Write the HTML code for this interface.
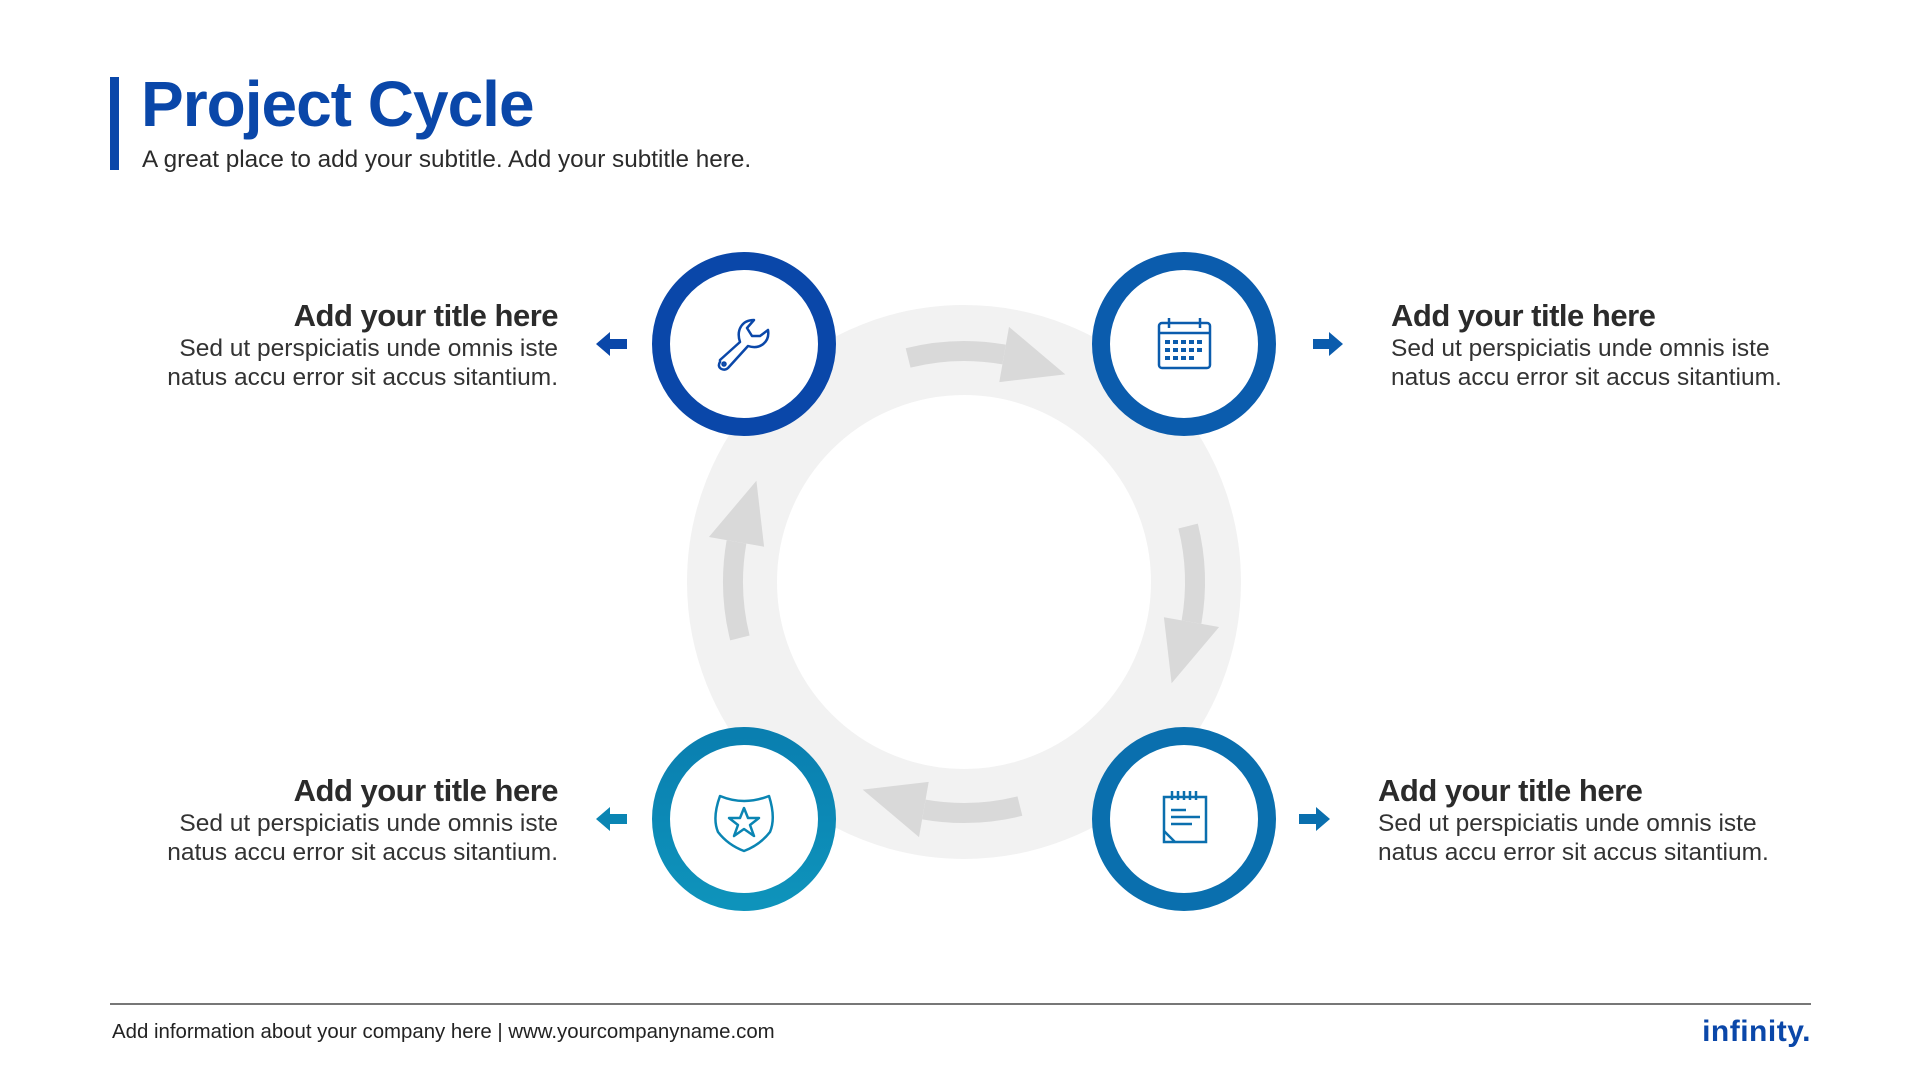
<!DOCTYPE html>
<html><head><meta charset="utf-8"><style>
body{margin:0;width:1920px;height:1080px;background:#fff;position:relative;overflow:hidden;font-family:"Liberation Sans",sans-serif;}
.t{position:absolute;font-weight:bold;font-size:31px;color:#2b2b2b;white-space:nowrap;letter-spacing:-0.5px}
.b{position:absolute;font-size:24.5px;color:#333;line-height:29px;white-space:nowrap}
.r{text-align:right}
</style></head><body>
<div style="position:absolute;left:110px;top:77px;width:9px;height:93px;background:#0a47a9"></div>
<div style="position:absolute;left:141px;top:67px;font-size:64px;font-weight:bold;color:#0a47a9;letter-spacing:-1px">Project Cycle</div>
<div style="position:absolute;left:142px;top:146px;font-size:24.3px;color:#2b2b2b">A great place to add your subtitle. Add your subtitle here.</div>

<svg width="1920" height="1080" style="position:absolute;left:0;top:0">
<defs><linearGradient id="g" x1="0" y1="0" x2="0" y2="1"><stop offset="0" stop-color="#0a7fb0"/><stop offset="1" stop-color="#0e93bb"/></linearGradient></defs>
<circle cx="964" cy="582" r="232" fill="none" stroke="#f2f2f2" stroke-width="90"/>
<g transform="translate(964,582)" fill="#d9d9d9">
 <g id="ar"><path d="M-55.9,-224.1 A231,231 0 0 1 40.1,-227.5" fill="none" stroke="#d9d9d9" stroke-width="20"/><polygon points="35.3,-199.9 45,-255.1 101.3,-207.6"/></g>
 <use href="#ar" transform="rotate(90)"/><use href="#ar" transform="rotate(180)"/><use href="#ar" transform="rotate(270)"/>
</g>
<circle cx="744" cy="344" r="83" fill="#fff" stroke="#0a47a9" stroke-width="18"/>
<circle cx="1184" cy="344" r="83" fill="#fff" stroke="#0b5cad" stroke-width="18"/>
<circle cx="744" cy="819" r="83" fill="#fff" stroke="url(#g)" stroke-width="18"/>
<circle cx="1184" cy="819" r="83" fill="#fff" stroke="#0a6fae" stroke-width="18"/>
<g fill="none" stroke="#0a47a9" stroke-width="2.5" stroke-linejoin="round">
<path d="M720,360 L740,342 C736,330 742,320 754,320 L747,328 L752,336 L760,336 L768,330 C770,342 760,350 748,346 L728,368 C724,372 716,368 720,362 Z"/>
<circle cx="724" cy="364" r="1.5"/></g>
<g fill="none" stroke="#0b5cad" stroke-width="2.5"><rect x="1159" y="323" width="51" height="45" rx="3"/><line x1="1159" y1="333" x2="1210" y2="333"/><line x1="1169" y1="318" x2="1169" y2="328"/><line x1="1200" y1="318" x2="1200" y2="328"/></g>
<g fill="#0b5cad">
<rect x="1165" y="340" width="5" height="4"/><rect x="1173" y="340" width="5" height="4"/><rect x="1181" y="340" width="5" height="4"/><rect x="1189" y="340" width="5" height="4"/><rect x="1197" y="340" width="5" height="4"/>
<rect x="1165" y="348" width="5" height="4"/><rect x="1173" y="348" width="5" height="4"/><rect x="1181" y="348" width="5" height="4"/><rect x="1189" y="348" width="5" height="4"/><rect x="1197" y="348" width="5" height="4"/>
<rect x="1165" y="356" width="5" height="4"/><rect x="1173" y="356" width="5" height="4"/><rect x="1181" y="356" width="5" height="4"/><rect x="1189" y="356" width="5" height="4"/></g>
<g fill="none" stroke="#0a85b3" stroke-width="2.5" stroke-linejoin="round">
<path d="M720,796 Q744,806 769,796 Q776,818 770,832 Q760,845 744,851 Q728,845 718,832 Q712,818 720,796 Z"/>
<polygon points="744,808 748,818 759,818 750,825 754,836 744,829 734,836 738,825 729,818 740,818"/></g>
<g fill="none" stroke="#0a6fae" stroke-width="2.5"><path d="M1164,797 H1206 V842 H1164 Z"/><path d="M1164,831 L1175,842"/>
<line x1="1172" y1="791" x2="1172" y2="800"/><line x1="1178" y1="791" x2="1178" y2="800"/><line x1="1184" y1="791" x2="1184" y2="800"/><line x1="1190" y1="791" x2="1190" y2="800"/><line x1="1196" y1="791" x2="1196" y2="800"/>
<line x1="1171" y1="810" x2="1186" y2="810"/><line x1="1171" y1="817" x2="1200" y2="817"/><line x1="1171" y1="824" x2="1192" y2="824"/></g>
<g fill="#0a47a9"><path d="M596,344 L610,332 L610,339 L627,339 L627,349 L610,349 L610,356 Z"/></g>
<g fill="#0b5cad"><path d="M1343,344 L1329,332 L1329,339 L1313,339 L1313,349 L1329,349 L1329,356 Z"/></g>
<g fill="#0a85b3"><path d="M596,819 L610,807 L610,814 L627,814 L627,824 L610,824 L610,831 Z"/></g>
<g fill="#0a6fae"><path d="M1330,819 L1316,807 L1316,814 L1299,814 L1299,824 L1316,824 L1316,831 Z"/></g>
<line x1="110" y1="1004" x2="1811" y2="1004" stroke="#777" stroke-width="2"/>
</svg>

<div class="t r" style="right:1362px;top:298px">Add your title here</div>
<div class="b r" style="right:1362px;top:334px">Sed ut perspiciatis unde omnis iste<br>natus accu error sit accus sitantium.</div>
<div class="t" style="left:1391px;top:298px">Add your title here</div>
<div class="b" style="left:1391px;top:334px">Sed ut perspiciatis unde omnis iste<br>natus accu error sit accus sitantium.</div>
<div class="t r" style="right:1362px;top:773px">Add your title here</div>
<div class="b r" style="right:1362px;top:809px">Sed ut perspiciatis unde omnis iste<br>natus accu error sit accus sitantium.</div>
<div class="t" style="left:1378px;top:773px">Add your title here</div>
<div class="b" style="left:1378px;top:809px">Sed ut perspiciatis unde omnis iste<br>natus accu error sit accus sitantium.</div>

<div style="position:absolute;left:112px;top:1021px;font-size:20.4px;color:#222">Add information about your company here | www.yourcompanyname.com</div>
<div style="position:absolute;right:109px;top:1015px;font-size:30px;font-weight:bold;color:#0a47a9;letter-spacing:0.5px">infinity.</div>
</body></html>
